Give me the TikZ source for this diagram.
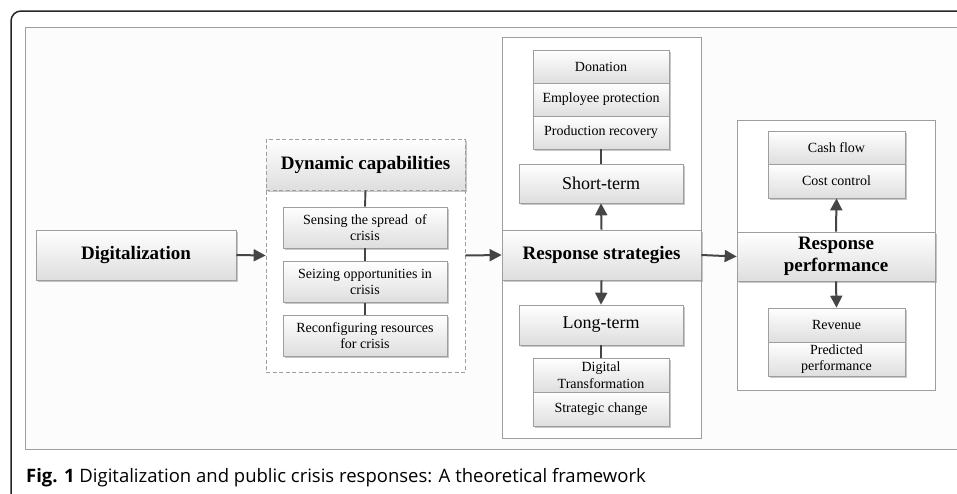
\documentclass[tikz,border=0pt]{standalone}
\usepackage{fontspec}
\setmainfont{Liberation Serif}
\newfontfamily\capfont{Open Sans}
\usetikzlibrary{arrows.meta,shadows}
\definecolor{ln}{HTML}{454545}
\definecolor{bd}{HTML}{9E9E9E}
\begin{document}
\begin{tikzpicture}[x=1pt,y=-1pt,
  cell/.style={draw=bd, line width=0.7pt, top color=white, bottom color=black!13,
    drop shadow={shadow xshift=1.5pt, shadow yshift=-1.5pt, fill=black!40, opacity=0.55},
    align=center, inner sep=0pt, font=\fontsize{14}{16.5}\selectfont},
  big/.style={cell, font=\fontsize{19}{22}\selectfont\bfseries},
  mid/.style={cell, font=\fontsize{18}{21}\selectfont},
  frame/.style={draw=bd, line width=0.7pt, fill=white, inner sep=0pt,
    drop shadow={shadow xshift=1.2pt, shadow yshift=-1.2pt, fill=black!25, opacity=0.4}},
  dframe/.style={draw=bd, line width=0.7pt, dash pattern=on 4pt off 2.5pt, inner sep=0pt},
  arr/.style={draw=ln, line width=2pt, -{Triangle[length=12pt,width=12pt]}},
  lnk/.style={draw=ln, line width=1.9pt},
]
\useasboundingbox (0,0) rectangle (957,493);
\clip (0,0) rectangle (957,493);

% page frames
\draw[black!85, line width=1.5pt, rounded corners=10pt] (30,503) -- (11,503) -- (11,11) -- (975,11);
\draw[bd, line width=0.8pt, fill=black!1] (25,449) rectangle (975,27);

% Digitalization
\node[big, minimum width=200pt, minimum height=50pt] (dig) at (136,255) {Digitalization};

% Dynamic capabilities
\node[dframe, fill=white, minimum width=199pt, minimum height=233pt] (dyn) at (365.5,255.5) {};
\node[big, dframe, minimum width=199pt, minimum height=51pt, drop shadow={opacity=0}] (dynh) at (365.5,164.5) {Dynamic capabilities};
\node[cell, minimum width=164pt, minimum height=41pt] (sense) at (365,227.5) {Sensing the spread\ \ of\\crisis};
\node[cell, minimum width=164pt, minimum height=41pt] (seize) at (365,282) {Seizing opportunities in\\crisis};
\node[cell, minimum width=164pt, minimum height=41pt] (reconf) at (365,335.5) {Reconfiguring resources\\for crisis};
\draw[lnk] (dynh.south) -- (sense.north);
\draw[lnk] (sense.south) -- (seize.north);
\draw[lnk] (seize.south) -- (reconf.north);

% Response strategies
\node[frame, minimum width=199pt, minimum height=401pt] (sc) at (601.5,237.5) {};
\node[big, minimum width=199pt, minimum height=50pt, drop shadow={opacity=0}] (strat) at (601.5,255) {Response strategies};
\node[cell, minimum width=136pt, minimum height=33pt] (don) at (601,66.5) {Donation};
\node[cell, minimum width=136pt, minimum height=33pt] (emp) at (601,99.5) {Employee protection};
\node[cell, minimum width=136pt, minimum height=33pt] (prod) at (601,132.5) {Production recovery};
\node[mid, minimum width=164pt, minimum height=39pt] (short) at (601,183.5) {Short-term};
\node[mid, minimum width=164pt, minimum height=40pt] (long) at (601,325) {Long-term};
\node[cell, minimum width=136pt, minimum height=34pt] (dt) at (601,375) {Digital\\Transformation};
\node[cell, minimum width=136pt, minimum height=34pt] (sch) at (601,409) {Strategic change};
\draw[lnk] (prod.south) -- (short.north);
\draw[arr] (strat.north) -- (short.south);
\draw[arr] (strat.south) -- (long.north);
\draw[lnk] (long.south) -- (dt.north);

% Response performance
\node[frame, minimum width=198pt, minimum height=270pt] (pc) at (836,255) {};
\node[big, minimum width=198pt, minimum height=49pt, drop shadow={opacity=0}] (perf) at (836,256.5) {Response\\performance};
\node[cell, minimum width=137pt, minimum height=33pt] (cash) at (836.5,147.5) {Cash flow};
\node[cell, minimum width=137pt, minimum height=34pt] (cost) at (836.5,181) {Cost control};
\node[cell, minimum width=137pt, minimum height=34pt] (rev) at (836.5,325) {Revenue};
\node[cell, minimum width=137pt, minimum height=34pt] (pred) at (836.5,359) {Predicted\\performance};
\draw[arr] (perf.north) -- (cost.south);
\draw[arr] (perf.south) -- (rev.north);

% main flow
\draw[arr] (dig.east) -- (dyn.west);
\draw[arr] (dyn.east) -- (strat.west);
\draw[arr] (strat.east) -- (perf.west);

% caption
\node[anchor=base west, inner sep=0pt, font=\capfont\fontsize{18.5}{22}\selectfont] (cap) at (26,482)
  {{\bfseries Fig. 1} Digitalization and public crisis responses: A theoretical framework};
\end{tikzpicture}
\end{document}
